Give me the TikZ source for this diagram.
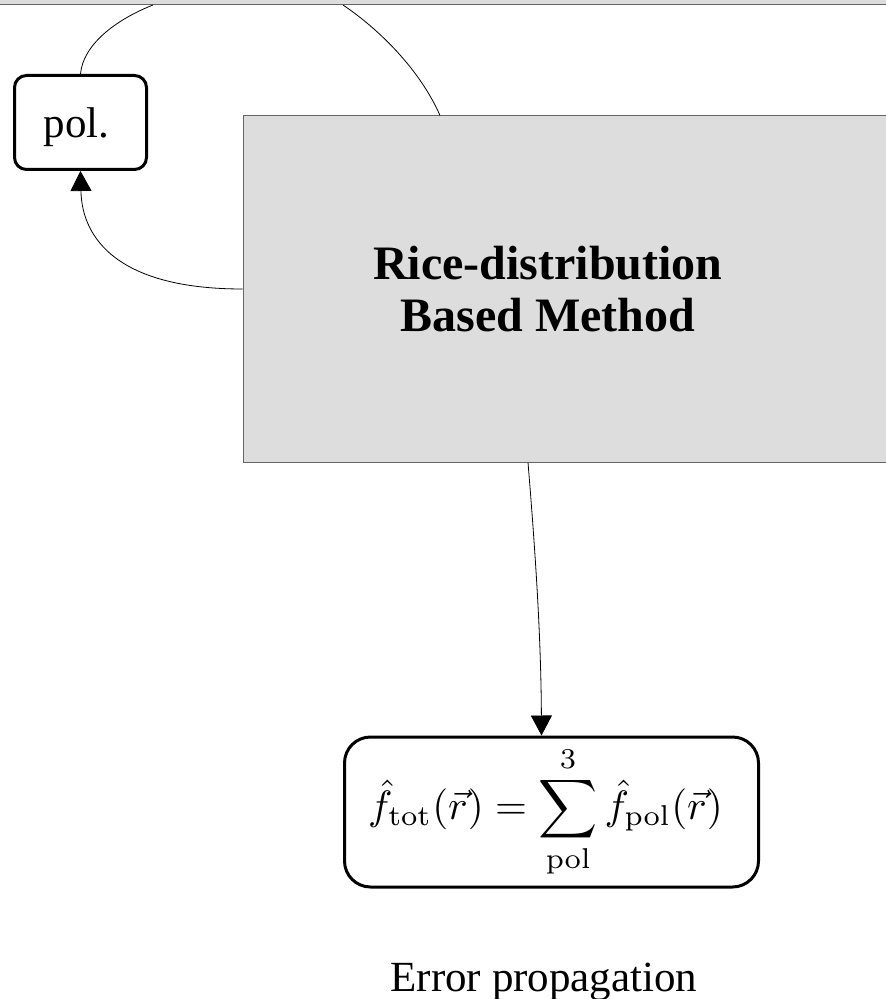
\documentclass[tikz,border=0pt]{standalone}
\usepackage[no-math]{fontspec}
\setmainfont{Liberation Serif}
\usetikzlibrary{arrows.meta}
\definecolor{boxgray}{HTML}{DDDDDD}
\begin{document}
\begin{tikzpicture}[x=0.5pt,y=-0.5pt,
  every node/.style={font=\fontsize{21.5}{24}\selectfont},
  roundbox/.style={shape=rectangle,rounded corners=6pt,draw=black,line width=1.5pt},
  graybox/.style={shape=rectangle,draw=black!60,fill=boxgray,line width=0.5pt},
  tip/.style={-{Triangle[length=10pt,width=10.5pt]}}]
  \useasboundingbox (0,0) rectangle (886,999);
  \clip (0,0) rectangle (886,999);

  \node[graybox,minimum width=500pt,minimum height=102.25pt] (methods) at (450,-97.75) {};
  \node[roundbox,minimum width=66pt,minimum height=47pt,text height=20pt,text depth=4.5pt] (pol) at (80.5,122.5) {pol.\hspace*{4pt}};
  \node[graybox,minimum width=358.5pt,minimum height=173pt] (rice) at (601.5,289) {};
  \node[font=\bfseries\fontsize{24}{26.2}\selectfont,align=center] (riceLabel) at (548,289) {Rice-distribution\\Based Method};
  \node[roundbox,rounded corners=13pt,minimum width=207pt,minimum height=75pt,font=\normalsize] (fTot) at (551.5,812) {\scalebox{2.05}{$\displaystyle \hat{f}_{\mathrm{tot}}(\vec{r}) = \sum_{\mathrm{pol}}^{3} \hat{f}_{\mathrm{pol}}(\vec{r})$}\hspace*{6pt}};
  \node[anchor=base] (errorProp) at (544,991.7) {Error propagation};

  \draw (pol.north) .. controls (83,45) and (115,20) .. (methods.south -| 153,0);
  \draw (methods.south -| 343,0) .. controls (380,30) and (420,70) .. (rice.north -| 440,0);
  \draw[tip] (rice.west) .. controls (120,289) and (82,240) .. (pol.south);
  \draw[tip] (rice.south -| 528,0) .. controls (536,560) and (541,640) .. ([xshift=-5pt]fTot.north);
\end{tikzpicture}
\end{document}
